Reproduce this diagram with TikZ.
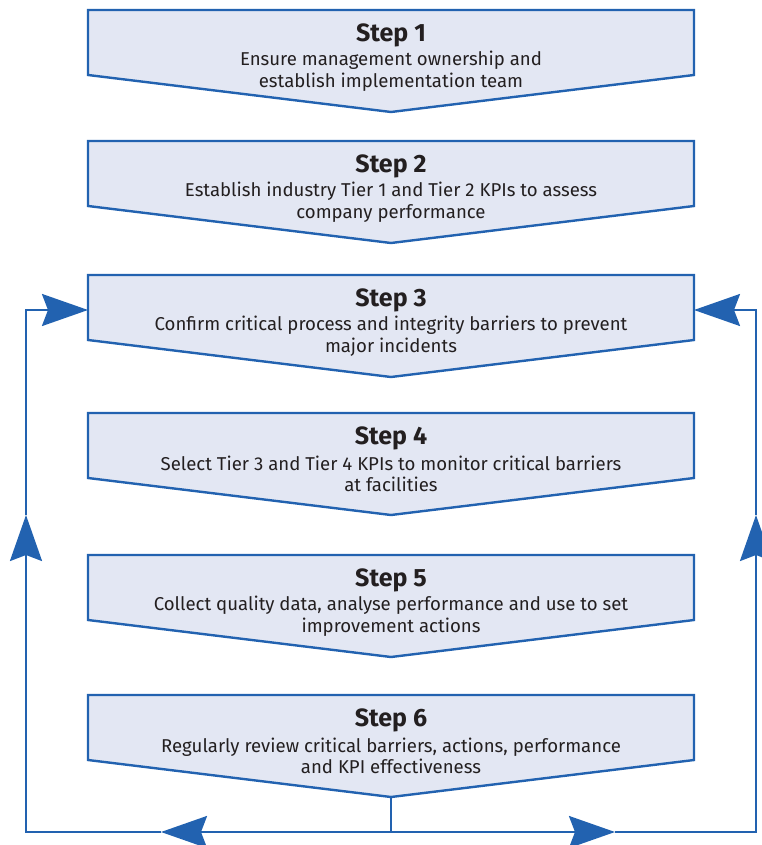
\documentclass[tikz,border=0pt]{standalone}
\usepackage{fontspec}
\setmainfont{Fira Sans}
\usetikzlibrary{arrows.meta}
\definecolor{boxfill}{HTML}{E3E7F3}
\definecolor{boxline}{HTML}{2262B0}
\definecolor{txt}{HTML}{231F20}
\tikzset{
  boxstyle/.style={fill=boxfill,draw=boxline,line width=2.4pt,line join=miter},
  titlestyle/.style={font=\fontsize{25}{28}\selectfont\bfseries,text=txt,inner sep=0pt,anchor=center},
  bodystyle/.style={font=\fontsize{18.6}{21.5}\selectfont,text=txt,inner sep=0pt,align=center,anchor=center},
  conn/.style={draw=boxline,line width=2.4pt},
  arr/.style={conn,-{Stealth[length=46pt,width=32pt,inset=6pt]}},
}
\newcommand{\kpibox}[4]{%
  \path[boxstyle] (88,#2) -- (694,#2) -- (694,#2+65) -- (391,#2+102) -- (88,#2+65) -- cycle;
  \node[titlestyle] (#1t) at (391,#2+25) {#3};
  \node[bodystyle] (#1) at (391,#2+61) {#4};
  \coordinate (#1w) at (88,#2+35);
  \coordinate (#1e) at (694,#2+35);
  \coordinate (#1s) at (391,#2+102);
}
\begin{document}
\begin{tikzpicture}[x=1pt,y=-1pt]
\useasboundingbox (0,0) rectangle (761,845);
\kpibox{b1}{10}{Step 1}{Ensure management ownership and\\establish implementation team}
\kpibox{b2}{141}{Step 2}{Establish industry Tier 1 and Tier 2 KPIs to assess\\company performance}
\kpibox{b3}{275}{Step 3}{Confirm critical process and integrity barriers to prevent\\major incidents}
\kpibox{b4}{413}{Step 4}{Select Tier 3 and Tier 4 KPIs to monitor critical barriers\\at facilities}
\kpibox{b5}{555}{Step 5}{Collect quality data, analyse performance and use to set\\improvement actions}
\kpibox{b6}{695}{Step 6}{Regularly review critical barriers, actions, performance\\and KPI effectiveness}
\coordinate (bc) at (391,832);
\coordinate (bl) at (26,832);
\coordinate (br) at (756,832);
\coordinate (lt) at (26,310);
\coordinate (rt) at (756,310);
\coordinate (lm) at (26,515);
\coordinate (rm) at (756,515);
\coordinate (bla) at (161,832);
\coordinate (bra) at (615,832);
\draw[conn] (b6s) -- (bc);
\draw[arr] (bc) -- (bla);
\draw[arr] (bla) -- (bl) -- (lm);
\draw[arr] (lm) -- (lt) -- (b3w);
\draw[arr] (bc) -- (bra);
\draw[arr] (bra) -- (br) -- (rm);
\draw[arr] (rm) -- (rt) -- (b3e);
\end{tikzpicture}
\end{document}
